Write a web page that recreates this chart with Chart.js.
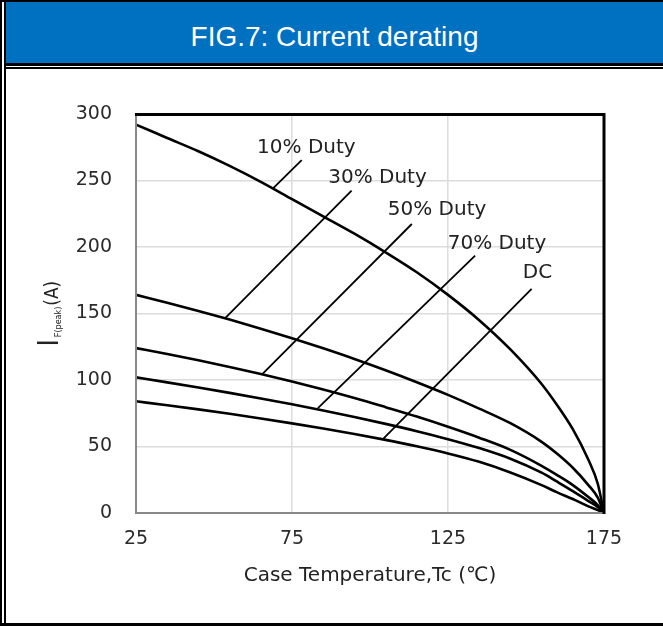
<!doctype html>
<html lang="en">
    <head>
        <meta charset="UTF-8" />
        <title>FIG.7: Current derating</title>
        <script src="https://cdn.jsdelivr.net/npm/chart.js"></script>
        <style>
            html,
            body {
                margin: 0;
                padding: 0;
                background: #fff;
            }

            #page {
                position: relative;
                width: 663px;
                height: 626px;
                overflow: hidden;
                background: #fff;
            }

            #chart {
                position: absolute;
                left: 0;
                top: 0;
            }

            .bar {
                position: absolute;
                background: #000;
            }

            #titlebar {
                position: absolute;
                left: 6px;
                top: 2px;
                width: 657px;
                height: 61px;
                background: #0070c0;
                color: #fff;
                font: 28px "Liberation Sans", Arial, sans-serif;
                text-align: center;
                line-height: 61px;
            }

            #titlebar span {
                position: relative;
                top: 4px;
            }
        </style>
    </head>
    <body>
        <div id="page">
            <canvas id="chart" width="663" height="626"></canvas>
            <div id="titlebar"><span>FIG.7: Current derating</span></div>
            <div class="bar" style="left: 0; top: 0; width: 663px; height: 2px"></div>
            <div class="bar" style="left: 0; top: 0; width: 2px; height: 626px"></div>
            <div class="bar" style="left: 4px; top: 0; width: 2px; height: 626px"></div>
            <div class="bar" style="left: 4px; top: 63px; width: 659px; height: 3px"></div>
            <div class="bar" style="left: 4px; top: 67px; width: 659px; height: 2px"></div>
            <div class="bar" style="left: 0; top: 623px; width: 663px; height: 3px"></div>
        </div>

        <script>
            // case temperature (°C) where the curves were read
            const temps = [25, 35, 45, 55, 65, 75, 85, 95, 105, 115, 125, 135, 145, 155, 160, 165, 170, 173, 175];

            // I F(peak) in A
            const duty10 = [292, 282, 272, 261, 249, 236, 223, 210, 196, 181, 164, 145, 123, 97, 81, 63, 40, 22, 0];
            const duty30 = [164, 158, 151.8, 145.4, 138.6, 131.4, 123.8, 115.8, 107.3, 98.3, 88.8, 78.5, 67.5, 53.5, 44.5, 34, 21, 11.5, 0];
            const duty50 = [124, 119.5, 114.8, 109.8, 104.5, 98.9, 92.9, 86.5, 79.6, 72.5, 64.8, 56.6, 47.5, 35.5, 28.5, 21, 12, 6, 0];
            const duty70 = [102, 98.2, 94.3, 90.3, 86.1, 81.7, 77.1, 72.2, 67, 61.5, 55.5, 48.8, 40.8, 30.3, 23.5, 16.5, 9, 4.5, 0];
            const dutyDC = [84, 81, 77.9, 74.6, 71.1, 67.4, 63.5, 59.4, 55, 50.2, 44.8, 38.5, 30.5, 21, 15.5, 10.5, 5, 2.2, 0];

            const seriesNames = ["10% Duty", "30% Duty", "50% Duty", "70% Duty", "DC"];
            const seriesValues = [duty10, duty30, duty50, duty70, dutyDC];

            // callout labels: centre of text, in chart units
            const labelT = [79.6, 102.4, 121.5, 140.7, 153.7];
            const labelI = [274.9, 252.3, 227.7, 202.2, 180.8];

            // leader lines: from label to curve, in chart units
            const leaderFromT = [78.1, 94.1, 113.4, 133.7, 151.8];
            const leaderFromI = [265.3, 242.3, 217.3, 193.5, 168.6];
            const leaderToT = [69.0, 53.5, 65.4, 83.3, 104.3];
            const leaderToI = [244.3, 146.3, 104.3, 78.8, 56.0];

            const xTicks = [25, 75, 125, 175];
            const yTicks = [0, 50, 100, 150, 200, 250, 300];

            const FONT = '"DejaVu Sans", sans-serif';
            const TEXT = "#222";

            /*** * * ***/

            const datasets = [];

            seriesValues.forEach((vals, i) => {
                datasets.push({
                    label: seriesNames[i],
                    data: temps.map((t, k) => ({ x: t, y: vals[k] })),
                    borderColor: "#000",
                    borderWidth: 2.6,
                    pointRadius: 0,
                    cubicInterpolationMode: "monotone",
                });
            });

            seriesNames.forEach((name, i) => {
                datasets.push({
                    label: name + " leader",
                    data: [
                        { x: leaderFromT[i], y: leaderFromI[i] },
                        { x: leaderToT[i], y: leaderToI[i] },
                    ],
                    borderColor: "#000",
                    borderWidth: 1.8,
                    pointRadius: 0,
                    tension: 0,
                });
            });

            const edgeGrid = (ends) => (c) =>
                c.tick && ends.includes(c.tick.value)
                    ? "rgba(0,0,0,0)"
                    : "#dcdcdc";

            // frame: grey left/bottom, black top/right
            const framePlugin = {
                id: "frame",
                afterDatasetsDraw(chart) {
                    const { ctx, chartArea: a } = chart;
                    ctx.save();
                    ctx.strokeStyle = "#888";
                    ctx.lineWidth = 2;
                    ctx.beginPath();
                    ctx.moveTo(a.left, a.top);
                    ctx.lineTo(a.left, a.bottom);
                    ctx.lineTo(a.right, a.bottom);
                    ctx.stroke();
                    ctx.strokeStyle = "#000";
                    ctx.lineWidth = 3;
                    ctx.beginPath();
                    ctx.moveTo(a.left - 1, a.top + 0.5);
                    ctx.lineTo(a.right, a.top + 0.5);
                    ctx.lineTo(a.right, a.bottom + 1);
                    ctx.stroke();
                    ctx.restore();
                },
            };

            const labelPlugin = {
                id: "callouts",
                afterDatasetsDraw(chart) {
                    const { ctx, scales } = chart;
                    ctx.save();
                    ctx.font = "20px " + FONT;
                    ctx.fillStyle = TEXT;
                    ctx.textAlign = "center";
                    ctx.textBaseline = "middle";
                    seriesNames.forEach((name, i) => {
                        ctx.fillText(
                            name,
                            scales.x.getPixelForValue(labelT[i]),
                            scales.y.getPixelForValue(labelI[i]),
                        );
                    });
                    ctx.restore();
                },
            };

            // y title with subscript: I F(peak) (A)
            const yTitlePlugin = {
                id: "ytitle",
                afterDraw(chart) {
                    const { ctx, chartArea: a } = chart;
                    const cy = (a.top + a.bottom) / 2;
                    ctx.save();
                    ctx.translate(58, cy + 33);
                    ctx.rotate(-Math.PI / 2);
                    ctx.scale(1, 1.15);
                    ctx.fillStyle = TEXT;
                    ctx.textBaseline = "alphabetic";
                    ctx.textAlign = "left";
                    let u = 0;
                    ctx.font = "25px " + FONT;
                    ctx.fillText("I", u, 0);
                    u += ctx.measureText("I").width + 2;
                    ctx.font = "8px " + FONT;
                    ctx.fillText("F(peak)", u, 3);
                    u += ctx.measureText("F(peak)").width + 1;
                    ctx.font = "17px " + FONT;
                    ctx.fillText("(A)", u, 0);
                    ctx.restore();
                },
            };

            new Chart(document.getElementById("chart"), {
                type: "line",
                data: { datasets: datasets },
                options: {
                    responsive: false,
                    animation: false,
                    events: [],
                    layout: {
                        padding: { left: 0, right: 59, top: 114, bottom: 38 },
                    },
                    plugins: {
                        legend: { display: false },
                        tooltip: { enabled: false },
                    },
                    scales: {
                        x: {
                            type: "linear",
                            min: xTicks[0],
                            max: xTicks[xTicks.length - 1],
                            afterBuildTicks: (s) => {
                                s.ticks = xTicks.map((v) => ({ value: v }));
                            },
                            afterFit: (s) => {
                                s.height = 75;
                            },
                            border: { display: false },
                            grid: {
                                color: edgeGrid([25, 175]),
                                lineWidth: 1.5,
                                drawTicks: false,
                            },
                            ticks: {
                                padding: 15,
                                color: "#2a2a2a",
                                font: { family: FONT, size: 19 },
                                maxRotation: 0,
                            },
                            title: {
                                display: true,
                                text: "Case Temperature,Tc (℃)",
                                color: TEXT,
                                font: { family: FONT, size: 20 },
                                padding: { top: 0, bottom: 0 },
                            },
                        },
                        y: {
                            min: yTicks[0],
                            max: yTicks[yTicks.length - 1],
                            afterBuildTicks: (s) => {
                                s.ticks = yTicks.map((v) => ({ value: v }));
                            },
                            afterFit: (s) => {
                                s.width = 136;
                            },
                            border: { display: false },
                            grid: {
                                color: edgeGrid([0, 300]),
                                lineWidth: 1.5,
                                drawTicks: false,
                            },
                            ticks: {
                                padding: 24,
                                color: "#2a2a2a",
                                font: { family: FONT, size: 19 },
                            },
                        },
                    },
                },
                plugins: [framePlugin, labelPlugin, yTitlePlugin],
            });
        </script>
    </body>
</html>
